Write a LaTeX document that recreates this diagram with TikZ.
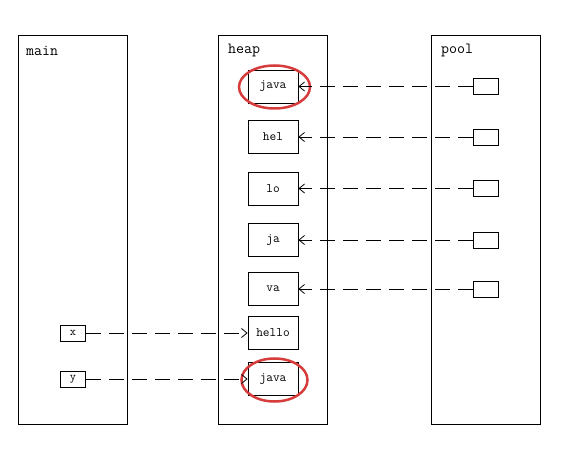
\documentclass[tikz,border=0pt]{standalone}
\usetikzlibrary{arrows.meta,shapes.geometric}
\begin{document}
\begin{tikzpicture}[x=1pt,y=-1pt,
  container/.style={draw,line width=0.8pt,minimum width=109pt,minimum height=389pt,inner sep=0pt},
  title/.style={font=\ttfamily\fontsize{15.5}{17}\selectfont,anchor=west,inner sep=0pt},
  hbox/.style={draw,line width=0.8pt,minimum width=50pt,minimum height=33pt,inner sep=0pt,font=\ttfamily\fontsize{13}{15}\selectfont},
  sbox/.style={draw,line width=0.8pt,minimum width=25pt,minimum height=16pt,inner sep=0pt,font=\ttfamily\fontsize{12}{14}\selectfont},
  ring/.style={draw={rgb,255:red,215;green,60;blue,60},line width=2.5pt,ellipse,inner sep=0pt},
  ref/.style={line width=0.8pt,dash pattern=on 15pt off 8pt,-{Straight Barb[length=5.5pt,width=9pt,line width=0.8pt]}}
]
\useasboundingbox (0,0) rectangle (568,457);
% containers
\node[container] (main) at (72.5,229.5) {};
\node[container] (heap) at (273,229.5) {};
\node[container] (pool) at (485.5,229.5) {};
\node[title] (tmain) at (26,50.5) {main};
\node[title] (theap) at (228,50.5) {heap};
\node[title] (tpool) at (441,50.5) {pool};
% heap boxes
\node[hbox] (hjava) at (273,86.5) {java};
\node[hbox] (hhel) at (273,137) {hel};
\node[hbox] (hlo) at (273,188.5) {lo};
\node[hbox] (hja) at (273,240) {ja};
\node[hbox] (hva) at (273,289) {va};
\node[hbox] (hhello) at (273,333) {hello};
\node[hbox] (hjava2) at (273,379) {java};
% pool boxes
\node[sbox] (p1) at (485.5,86.5) {};
\node[sbox] (p2) at (485.5,137) {};
\node[sbox] (p3) at (485.5,188.5) {};
\node[sbox] (p4) at (485.5,240) {};
\node[sbox] (p5) at (485.5,289) {};
% main boxes
\node[sbox] (x) at (73,333) {x};
\node[sbox] (y) at (73,379) {y};
% rings
\node[ring,minimum width=71pt,minimum height=43pt] (r1) at (274.5,87) {};
\node[ring,minimum width=66pt,minimum height=43pt] (r2) at (274.5,380) {};
% references
\draw[ref] (p1.west) -- (hjava.east);
\draw[ref] (p2.west) -- (hhel.east);
\draw[ref] (p3.west) -- (hlo.east);
\draw[ref] (p4.west) -- (hja.east);
\draw[ref] (p5.west) -- (hva.east);
\draw[ref] (x.east) -- (hhello.west);
\draw[ref] (y.east) -- (hjava2.west);
\end{tikzpicture}
\end{document}
